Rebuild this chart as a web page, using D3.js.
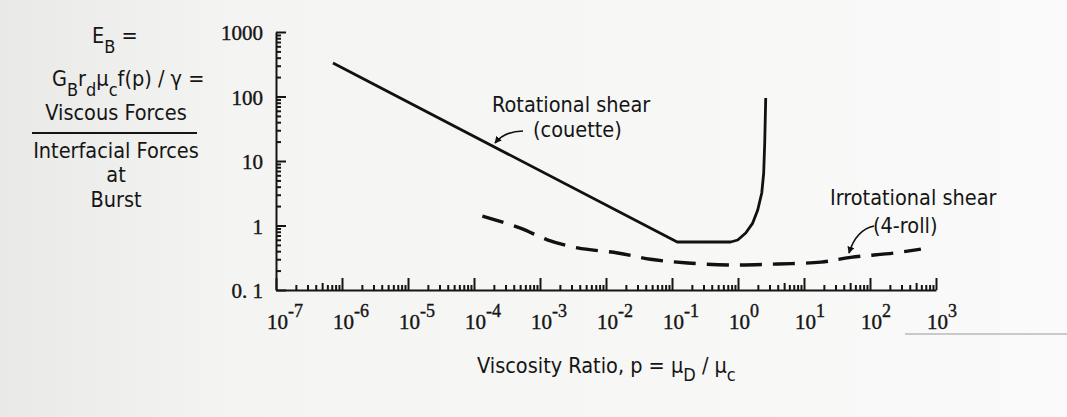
<!DOCTYPE html>
<html>
<head>
<meta charset="utf-8">
<script src="https://cdn.jsdelivr.net/npm/d3@7"></script>
<style>
  body { margin: 0; background: #f7f7f5; }
  svg { display: block; }
  .sans { font-family: "DejaVu Sans Condensed", "DejaVu Sans", sans-serif; font-stretch: condensed; fill: #151515; }
  .num { font-family: "Liberation Serif", "DejaVu Serif", serif; fill: #151515; stroke: #151515; stroke-width: 0.4px; }
  .axis path, .axis line { stroke: #151515; stroke-width: 2; }
</style>
</head>
<body>
<svg width="1067" height="417"></svg>
<script>
// values (log-log)
const rotX = [7.3e-7, 0.12, 0.774, 0.99, 1.31, 1.67, 1.99, 2.29, 2.45, 2.54, 2.63];
const rotY = [330, 0.555, 0.555, 0.596, 0.765, 1.09, 1.74, 3.19, 6.5, 19, 95];

const irrX = [1.34e-4, 5.05e-4, 1.29e-3, 3.7e-3, 0.015, 0.047, 0.173, 0.86, 4.0, 18, 51, 231, 590];
const irrY = [1.40, 0.91, 0.60, 0.45, 0.375, 0.30, 0.262, 0.244, 0.253, 0.27, 0.32, 0.375, 0.43];

const xTicks = [-7, -6, -5, -4, -3, -2, -1, 0, 1, 2, 3];
const yTicks = [0.1, 1, 10, 100, 1000];
const yTickLabels = ['0. 1', '1', '10', '100', '1000'];

const svg = d3.select('svg');
const width = +svg.attr('width');
const height = +svg.attr('height');

// scan background, a bit darker at the left
const defs = svg.append('defs');
const grad = defs.append('linearGradient').attr('id', 'bg');
grad.append('stop').attr('offset', '0%').attr('stop-color', '#e9e9e7');
grad.append('stop').attr('offset', '22%').attr('stop-color', '#f4f4f2');
grad.append('stop').attr('offset', '100%').attr('stop-color', '#fafafa');
svg.append('rect').attr('width', width).attr('height', height).attr('fill', 'url(#bg)');

const x = d3.scaleLog().domain([1e-7, 1e3]).range([276, 936]);
const y = d3.scaleLog().domain([0.1, 1000]).range([290, 32]);

// minor ticks for each decade
const xMinor = [];
for (let e = -7; e < 3; e++) for (let m = 2; m <= 9; m++) xMinor.push(m * Math.pow(10, e));
const yMinor = [];
for (let e = -1; e < 3; e++) for (let m = 2; m <= 9; m++) yMinor.push(m * Math.pow(10, e));

// x axis (ticks point up, into the plot)
svg.append('g').attr('class', 'axis')
  .attr('transform', 'translate(0,290)')
  .call(d3.axisBottom(x).tickValues(xMinor.filter(v => !String(v).startsWith('5'))).tickSize(-5).tickFormat('').tickSizeOuter(0));
svg.append('g').attr('class', 'axis')
  .attr('transform', 'translate(0,290)')
  .call(d3.axisBottom(x).tickValues(xMinor.filter(v => String(v).startsWith('5'))).tickSize(-7).tickFormat('').tickSizeOuter(0))
  .select('.domain').remove();
svg.append('g').attr('class', 'axis')
  .attr('transform', 'translate(0,290)')
  .call(d3.axisBottom(x).tickValues(xTicks.map(e => Math.pow(10, e))).tickSize(-12).tickFormat('').tickSizeOuter(0))
  .select('.domain').remove();

const xl = svg.append('g').selectAll('text')
  .data(xTicks)
  .enter().append('text')
  .attr('class', 'num')
  .attr('x', d => x(Math.pow(10, d)) - 9)
  .attr('y', 329)
  .style('font-size', '21px');
xl.append('tspan').text('10');
xl.append('tspan')
  .attr('dy', -12)
  .style('font-size', '18px')
  .text(d => (d < 0 ? '-' : '') + Math.abs(d));

// y axis (ticks point right)
svg.append('g').attr('class', 'axis')
  .attr('transform', 'translate(276,0)')
  .call(d3.axisLeft(y).tickValues(yMinor).tickSize(-5).tickFormat('').tickSizeOuter(0));
const ya = svg.append('g').attr('class', 'axis')
  .attr('transform', 'translate(276,0)')
  .call(d3.axisLeft(y).tickValues(yTicks).tickSize(-10).tickPadding(13)
    .tickFormat((d, i) => yTickLabels[i]).tickSizeOuter(0));
ya.select('.domain').remove();
ya.selectAll('text')
  .attr('class', 'num')
  .attr('fill', null)
  .style('font-size', '21px')
  .attr('dy', '0.36em');

// curves
const line = d3.line()
  .x(d => x(d[0]))
  .y(d => y(d[1]));

svg.append('path')
  .datum(rotX.map((v, i) => [v, rotY[i]]))
  .attr('d', line)
  .attr('fill', 'none')
  .attr('stroke', '#111')
  .attr('stroke-width', 2.8)
  .attr('stroke-linejoin', 'round');

svg.append('path')
  .datum(irrX.map((v, i) => [v, irrY[i]]))
  .attr('d', line.curve(d3.curveCatmullRom))
  .attr('fill', 'none')
  .attr('stroke', '#111')
  .attr('stroke-width', 3.4)
  .attr('stroke-dasharray', '22 11');

// annotations
defs.append('marker')
  .attr('id', 'head')
  .attr('viewBox', '0 0 10 10')
  .attr('refX', 9).attr('refY', 5)
  .attr('markerWidth', 7).attr('markerHeight', 7)
  .attr('markerUnits', 'userSpaceOnUse')
  .attr('orient', 'auto')
  .append('path').attr('d', 'M0,0L10,5L0,10Z').attr('fill', '#111');

svg.append('path')
  .attr('d', 'M523,131 Q505,131 495,143')
  .attr('fill', 'none').attr('stroke', '#111').attr('stroke-width', 1.6)
  .attr('marker-end', 'url(#head)');
svg.append('path')
  .attr('d', 'M874,226 Q856,230 849,253')
  .attr('fill', 'none').attr('stroke', '#111').attr('stroke-width', 1.6)
  .attr('marker-end', 'url(#head)');

const lab = svg.append('g').attr('class', 'sans').style('font-size', '21.5px');
lab.append('text').attr('x', 492).attr('y', 112).text('Rotational shear');
lab.append('text').attr('x', 533).attr('y', 137).text('(couette)');
lab.append('text').attr('x', 830).attr('y', 205).text('Irrotational shear');
lab.append('text').attr('x', 873).attr('y', 233).text('(4-roll)');

// axis title
const xt = lab.append('text').attr('x', 477).attr('y', 373);
xt.append('tspan').text('Viscosity Ratio, p  =  μ');
xt.append('tspan').attr('dy', 8).style('font-size', '18px').text('D');
xt.append('tspan').attr('dy', -8).text(' / μ');
xt.append('tspan').attr('dy', 8).style('font-size', '18px').text('c');

// y title block
const e1 = lab.append('text').attr('x', 92).attr('y', 43);
e1.append('tspan').text('E');
e1.append('tspan').attr('dy', 10).style('font-size', '18px').text('B');
e1.append('tspan').attr('dy', -10).text('   =');

const e2 = lab.append('text').attr('x', 52).attr('y', 86);
e2.append('tspan').text('G');
e2.append('tspan').attr('dy', 10).style('font-size', '18px').text('B');
e2.append('tspan').attr('dy', -10).text('r');
e2.append('tspan').attr('dy', 10).style('font-size', '18px').text('d');
e2.append('tspan').attr('dy', -10).text('μ');
e2.append('tspan').attr('dy', 10).style('font-size', '18px').text('c');
e2.append('tspan').attr('dy', -10).text('f(p) / γ  =');

const block = ['Viscous Forces', 'Interfacial Forces', 'at', 'Burst'];
const blockY = [120, 158, 182, 207];
lab.selectAll('.blk')
  .data(block)
  .enter().append('text')
  .attr('class', 'blk')
  .attr('x', 116)
  .attr('y', (d, i) => blockY[i])
  .attr('text-anchor', 'middle')
  .text(d => d);
svg.append('line')
  .attr('x1', 32).attr('x2', 197)
  .attr('y1', 133).attr('y2', 133)
  .attr('stroke', '#151515').attr('stroke-width', 2);

// faint scan line at the right
svg.append('line')
  .attr('x1', 905).attr('x2', width)
  .attr('y1', 334).attr('y2', 334)
  .attr('stroke', '#9a9a9a').attr('stroke-width', 1.2);
</script>
</body>
</html>
